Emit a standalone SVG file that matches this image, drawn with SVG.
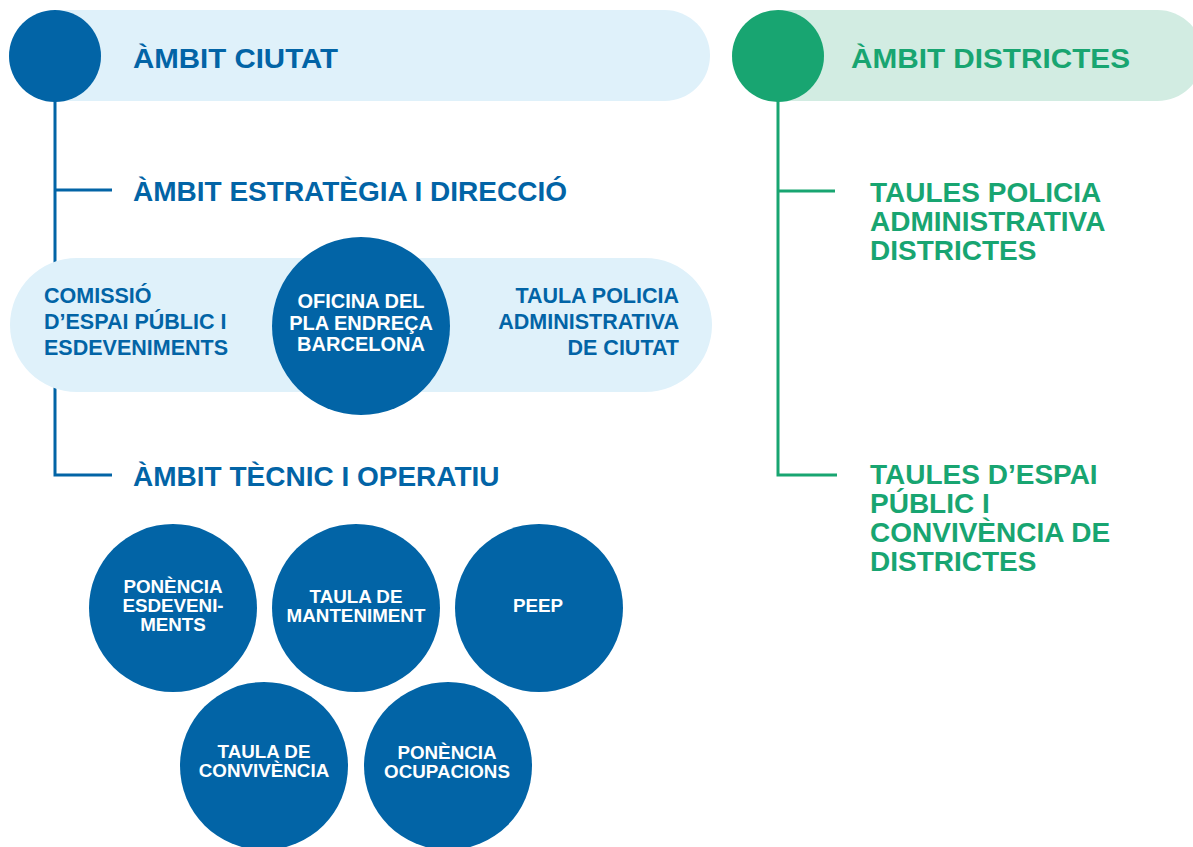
<svg xmlns="http://www.w3.org/2000/svg" width="1193" height="847" viewBox="0 0 1193 847">
<style>
.b{fill:#0264a6}
.g{fill:#18a571}
.t{font-family:"Liberation Sans",Arial,sans-serif;font-weight:bold}
.h{font-size:28px}
.m{font-size:21.5px}
.c{font-size:20px}
.s{font-size:18.8px}
.w{fill:#ffffff}
.lb{stroke:#0264a6;stroke-width:3;fill:none}
.lg{stroke:#18a571;stroke-width:3;fill:none}
</style>
<rect width="1193" height="847" fill="#ffffff"/>
<g id="connectors">
<path class="lb" d="M55 100 V475 H112 M55 190 H112"/>
<path class="lg" d="M778 100 V475 H837 M778 191 H835"/>
</g>
<g id="ambit-ciutat">
<rect x="10" y="10" width="700" height="91" rx="45.5" fill="#dff1fa"/>
<circle cx="55" cy="56" r="46" class="b"/>
<text x="133" y="68" class="t h b" textLength="205" lengthAdjust="spacingAndGlyphs">ÀMBIT CIUTAT</text>
</g>
<g id="ambit-districtes">
<rect x="733" y="10" width="470" height="91" rx="45.5" fill="#d2ece2"/>
<circle cx="778" cy="56" r="46" class="g"/>
<text x="851" y="68" class="t h g" textLength="279" lengthAdjust="spacingAndGlyphs">ÀMBIT DISTRICTES</text>
</g>
<g id="estrategia">
<text x="133" y="201" class="t h b">ÀMBIT ESTRATÈGIA I DIRECCIÓ</text>
</g>
<g id="comissio-pill">
<rect x="10" y="258" width="702" height="134" rx="67" fill="#dff1fa"/>
<text class="t m b"><tspan x="44" y="303">COMISSIÓ</tspan><tspan x="44" y="329">D’ESPAI PÚBLIC I</tspan><tspan x="44" y="355">ESDEVENIMENTS</tspan></text>
<text class="t m b" text-anchor="end"><tspan x="679" y="303">TAULA POLICIA</tspan><tspan x="679" y="329">ADMINISTRATIVA</tspan><tspan x="679" y="355">DE CIUTAT</tspan></text>
</g>
<g id="oficina">
<circle cx="361" cy="326" r="89" class="b"/>
<text class="t c w" text-anchor="middle"><tspan x="361" y="308">OFICINA DEL</tspan><tspan x="361" y="330">PLA ENDREÇA</tspan><tspan x="361" y="351">BARCELONA</tspan></text>
</g>
<g id="tecnic">
<text x="133" y="486" class="t h b">ÀMBIT TÈCNIC I OPERATIU</text>
</g>
<g id="ponencia-esdeveniments">
<circle cx="173" cy="608" r="84" class="b"/>
<text class="t s w" text-anchor="middle"><tspan x="173" y="593">PONÈNCIA</tspan><tspan x="173" y="612">ESDEVENI-</tspan><tspan x="173" y="631">MENTS</tspan></text>
</g>
<g id="taula-manteniment">
<circle cx="356" cy="608" r="84" class="b"/>
<text class="t s w" text-anchor="middle"><tspan x="356" y="603">TAULA DE</tspan><tspan x="356" y="622">MANTENIMENT</tspan></text>
</g>
<g id="peep">
<circle cx="539" cy="608" r="84" class="b"/>
<text x="538" y="612" class="t s w" text-anchor="middle">PEEP</text>
</g>
<g id="taula-convivencia">
<circle cx="264" cy="766" r="84" class="b"/>
<text class="t s w" text-anchor="middle"><tspan x="264" y="758">TAULA DE</tspan><tspan x="264" y="777">CONVIVÈNCIA</tspan></text>
</g>
<g id="ponencia-ocupacions">
<circle cx="448" cy="766" r="84" class="b"/>
<text class="t s w" text-anchor="middle"><tspan x="447" y="759">PONÈNCIA</tspan><tspan x="447" y="778">OCUPACIONS</tspan></text>
</g>
<g id="taules-policia">
<text class="t h g"><tspan x="870" y="202">TAULES POLICIA</tspan><tspan x="870" y="231">ADMINISTRATIVA</tspan><tspan x="870" y="260">DISTRICTES</tspan></text>
</g>
<g id="taules-espai">
<text class="t h g"><tspan x="870" y="484">TAULES D’ESPAI</tspan><tspan x="870" y="513">PÚBLIC I</tspan><tspan x="870" y="542">CONVIVÈNCIA DE</tspan><tspan x="870" y="571">DISTRICTES</tspan></text>
</g>
</svg>
